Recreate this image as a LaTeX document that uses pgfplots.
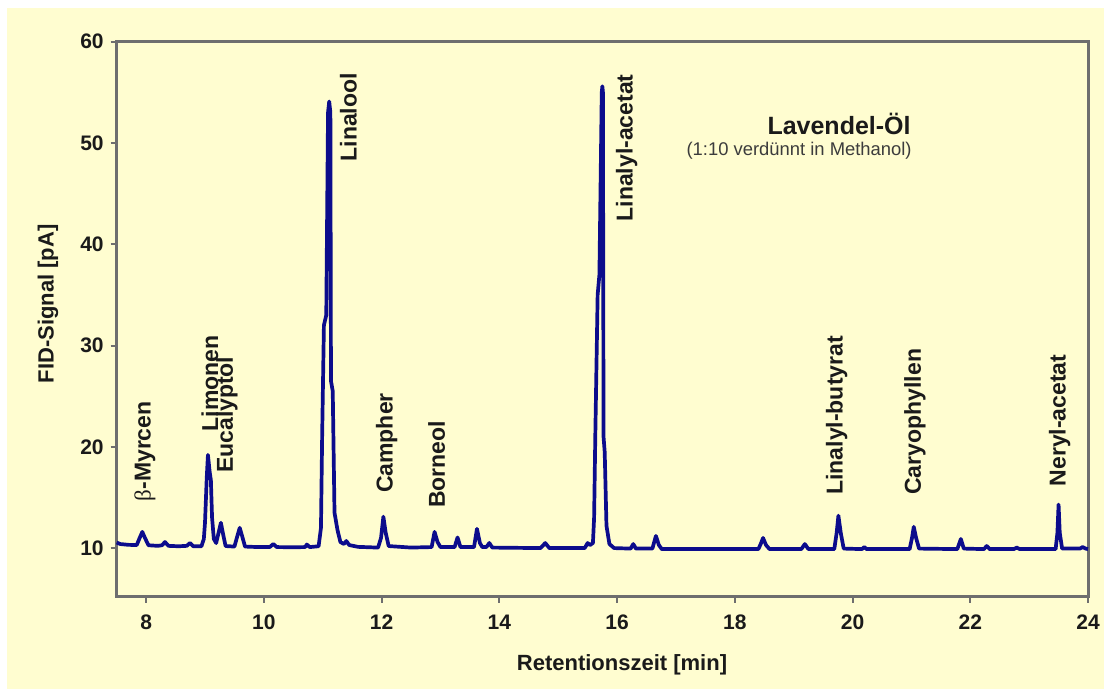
\documentclass[border=0pt]{standalone}
\usepackage{fontspec}
\setmainfont{Liberation Sans}
\newfontfamily\greekserif{Liberation Serif}
\usepackage{pgfplots}
\pgfplotsset{compat=1.18}
\definecolor{bgcream}{HTML}{FFFDD0}
\definecolor{axgray}{HTML}{6E6E6E}
\definecolor{navyline}{HTML}{0C0C8C}
\definecolor{txt}{HTML}{1A1A1A}

\pgfplotstableread{
x y
7.50 10.55
7.56 10.40
7.70 10.32
7.84 10.30
7.89 11.00
7.935 11.60
7.98 11.00
8.04 10.28
8.20 10.22
8.27 10.28
8.32 10.60
8.38 10.22
8.55 10.18
8.69 10.22
8.745 10.50
8.80 10.18
8.94 10.18
8.98 10.90
9.00 12.50
9.03 17.00
9.05 19.20
9.08 17.50
9.10 16.70
9.12 13.00
9.15 10.90
9.19 10.50
9.23 11.50
9.27 12.50
9.31 11.30
9.35 10.20
9.50 10.15
9.55 11.20
9.59 12.00
9.63 11.20
9.68 10.15
9.90 10.10
10.10 10.10
10.16 10.40
10.22 10.10
10.50 10.08
10.70 10.10
10.73 10.35
10.78 10.10
10.93 10.18
10.97 12.00
10.99 21.00
11.02 32.00
11.06 33.00
11.09 53.00
11.11 54.10
11.13 53.00
11.14 26.50
11.17 25.50
11.20 13.50
11.25 11.80
11.30 10.60
11.36 10.40
11.40 10.70
11.45 10.30
11.60 10.12
11.94 10.05
11.99 11.00
12.03 13.10
12.07 11.50
12.12 10.20
12.50 10.05
12.85 10.10
12.90 11.60
12.95 10.60
13.00 10.10
13.24 10.10
13.29 11.05
13.34 10.10
13.57 10.10
13.62 11.90
13.67 10.50
13.71 10.10
13.78 10.10
13.83 10.50
13.88 10.05
14.70 10.00
14.78 10.50
14.85 10.00
15.45 10.00
15.50 10.50
15.54 10.30
15.59 10.50
15.61 13.00
15.63 21.00
15.67 35.00
15.70 37.00
15.74 55.00
15.75 55.60
15.76 55.00
15.77 21.00
15.79 19.50
15.82 12.20
15.87 10.40
15.95 10.00
16.23 9.95
16.275 10.40
16.32 9.95
16.60 9.95
16.66 11.20
16.71 10.30
16.76 9.90
18.40 9.90
18.44 10.40
18.48 11.00
18.53 10.30
18.59 9.90
19.13 9.90
19.19 10.40
19.25 9.90
19.69 9.90
19.73 11.50
19.76 13.20
19.80 11.50
19.85 9.95
20.16 9.90
20.20 10.10
20.24 9.90
20.97 9.90
21.01 11.00
21.04 12.10
21.08 11.00
21.13 9.95
21.78 9.90
21.84 10.90
21.89 9.95
22.23 9.90
22.28 10.20
22.33 9.90
22.74 9.90
22.79 10.05
22.84 9.90
23.45 9.90
23.48 11.50
23.50 14.30
23.52 11.50
23.56 9.95
23.86 9.95
23.91 10.10
23.96 9.95
24.00 9.90
}\chrom

\begin{document}
\begin{tikzpicture}
\fill[white] (-58.35bp,-46.15bp) rectangle (493.65bp,298.35bp);
\fill[bgcream] (-54.85bp,-46.15bp) rectangle (493.65bp,294.35bp);
\begin{axis}[
  at={(0,0)}, anchor=south west,
  scale only axis, width=485.65bp, height=277.5bp,
  xmin=7.5, xmax=24, ymin=5.2, ymax=60,
  xtick={8,10,...,24}, ytick={10,20,...,60},
  axis line style={axgray, line width=1.5bp},
  tick style={axgray, line width=1bp},
  tick align=outside, major tick length=3bp,
  tick pos=left,
  /pgf/number format/assume math mode=true,
  ticklabel style={font=\bfseries\fontsize{10.5bp}{12bp}\selectfont, text=txt},
  xticklabel style={yshift=-2.5bp},
  clip=false,
]
\addplot[navyline, line width=1.85bp, line join=round] table {\chrom};
\tikzset{plab/.style={rotate=90, anchor=west, inner sep=0pt, text=txt, font=\bfseries\fontsize{11.5bp}{13bp}\selectfont}}
\node[plab] at (axis cs:7.98,14.58) {{\greekserif\mdseries β}-Myrcen};
\node[plab] at (axis cs:9.085,21.49) {Limonen};
\node[plab] at (axis cs:9.374,17.38) {Eucalyptol};
\node[plab] at (axis cs:11.434,48.14) {Linalool};
\node[plab] at (axis cs:12.086,15.41) {Campher};
\node[plab] at (axis cs:12.936,13.93) {Borneol};
\node[plab] at (axis cs:16.163,42.22) {Linalyl-acetat};
\node[plab] at (axis cs:19.73,15.24) {Linalyl-butyrat};
\node[plab] at (axis cs:21.06,15.24) {Caryophyllen};
\node[plab] at (axis cs:23.52,16.06) {Neryl-acetat};
\end{axis}
\node[anchor=base east, inner sep=0pt, text=txt, font=\bfseries\fontsize{12.5bp}{14bp}\selectfont] at (397.15bp,230.85bp) {Lavendel-Öl};
\node[anchor=base east, inner sep=0pt, text=txt!85, font=\fontsize{9.2bp}{11bp}\selectfont] at (397.65bp,220.6bp) {(1:10 verdünnt in Methanol)};
\node[rotate=90, inner sep=0pt, text=txt, font=\bfseries\fontsize{11bp}{13bp}\selectfont] at (-34.35bp,146.35bp) {FID-Signal [pA]};
\node[inner sep=0pt, text=txt, font=\bfseries\fontsize{11bp}{13bp}\selectfont] at (252.65bp,-34.15bp) {Retentionszeit [min]};
\pgfresetboundingbox
\path[use as bounding box] (-58.35bp,-46.15bp) rectangle (493.65bp,298.35bp);
\end{tikzpicture}
\end{document}
